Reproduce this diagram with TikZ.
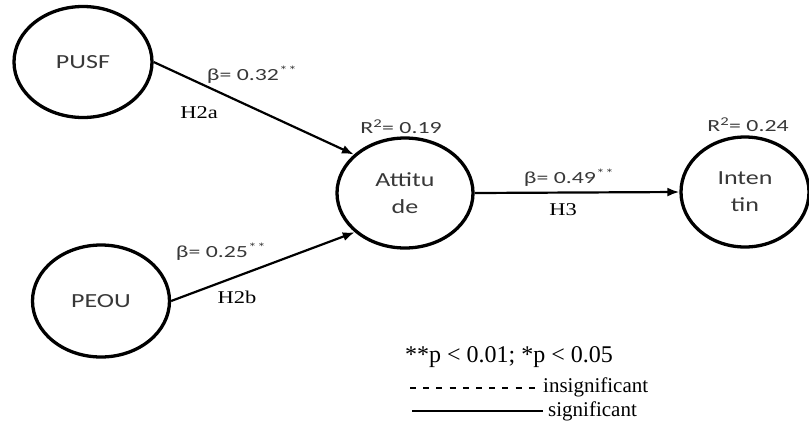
\documentclass[tikz,border=0pt]{standalone}
\usepackage{fontspec}
\setmainfont{Liberation Serif}
\newfontfamily\sanslab[FakeStretch=1.3]{Carlito}
\newfontfamily\coeffont[FakeStretch=1.4]{Carlito}
\newfontfamily\serlab[FakeStretch=1.25]{Liberation Serif}
\newfontfamily\legfont{Liberation Serif}
\usetikzlibrary{shapes.geometric,arrows.meta}

\newcommand{\twostars}{\textsuperscript{\kern0.5pt*\kern0.5pt*}}

\tikzset{
  construct/.style={ellipse, draw=black, line width=3.3pt, inner sep=0pt,
    align=center, text=black!78, font=\sanslab\fontsize{20}{27}\selectfont},
  path/.style={line width=2.2pt, -{Latex[length=12pt,width=9pt]}},
  coef/.style={text=black!78, font=\coeffont\fontsize{17}{18}\selectfont, inner sep=0pt},
  hyp/.style={text=black, font=\serlab\fontsize{18}{19}\selectfont, inner sep=0pt},
  legend/.style={text=black, font=\legfont\fontsize{21}{22}\selectfont, inner sep=0pt, anchor=base west},
}

\begin{document}
\begin{tikzpicture}[x=1pt,y=-1pt]
\useasboundingbox (0,0) rectangle (809,424);

% latent constructs
\node[construct, minimum width=138pt, minimum height=111pt] (pusf) at (83,62) {PUSF};
\node[construct, minimum width=137pt, minimum height=112pt] (peou) at (101,301) {PEOU};
\node[construct, minimum width=136pt, minimum height=110pt] (att) at (405,193) {Attitu\\de};
\node[construct, minimum width=128pt, minimum height=110pt] (int) at (745,192) {Inten\\tin};

% structural paths
\draw[path] (pusf.east) -- (att.143);
\draw[path] (peou.east) -- (att.218);
\draw[path] (att.east) -- (int.west);

% path coefficients and hypotheses
\node[coef] (b1) at (252,75) {β= 0.32\twostars};
\node[hyp] (h1) at (199,113) {H2a};
\node[coef] (b2) at (221,252) {β= 0.25\twostars};
\node[hyp] (h2) at (237,297) {H2b};
\node[coef] (b3) at (569,178) {β= 0.49\twostars};
\node[hyp] (h3) at (563,210) {H3};

% explained variance
\node[coef] (r1) at (401,127) {R\textsuperscript{2}= 0.19};
\node[coef] (r2) at (748,125) {R\textsuperscript{2}= 0.24};

% legend
\node[legend, font=\legfont\fontsize{24}{26}\selectfont] (sig) at (405,362) {**p < 0.01; *p < 0.05};
\coordinate (d1) at (410,388);
\coordinate (d2) at (541,388);
\draw[line width=1.5pt, dash pattern=on 6pt off 7.2pt] (d1) -- (d2);
\node[legend] (ins) at (543,392) {insignificant};
\coordinate (s1) at (412,411);
\coordinate (s2) at (543,411);
\draw[line width=2.8pt] (s1) -- (s2);
\node[legend] (sg) at (548,416) {significant};
\end{tikzpicture}
\end{document}
